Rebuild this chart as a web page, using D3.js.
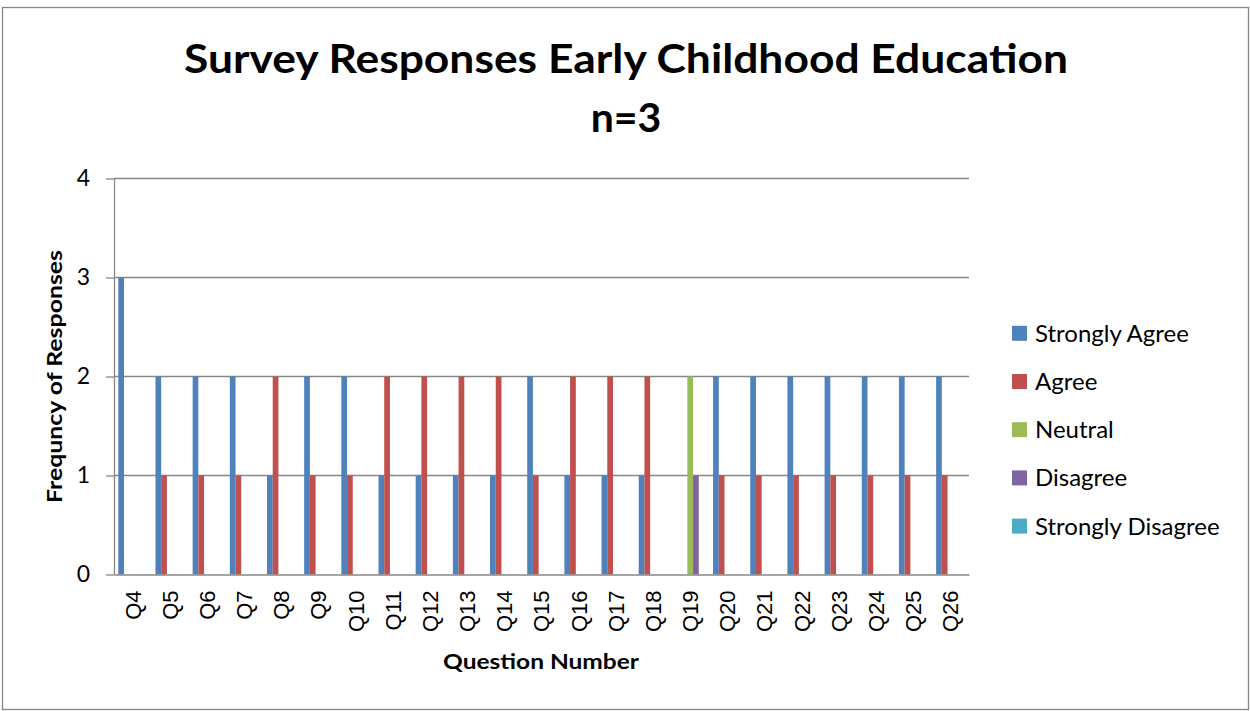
<!DOCTYPE html>
<html lang="en">
  <head>
    <meta charset="utf-8">
    <title>Survey Responses Early Childhood Education</title>
    <script src="https://cdn.jsdelivr.net/npm/d3@7"></script>
    <style>
      body { margin: 0; background: #fff; }
      .axis path, .axis line { fill: none; stroke: #878787; stroke-width: 1.3px; }
      .grid line { stroke: #878787; stroke-width: 1.3px; }
    </style>
  </head>
  <body>
    <script>
      // data
      var categories = ["Q4", "Q5", "Q6", "Q7", "Q8", "Q9", "Q10", "Q11", "Q12", "Q13", "Q14", "Q15",
                        "Q16", "Q17", "Q18", "Q19", "Q20", "Q21", "Q22", "Q23", "Q24", "Q25", "Q26"];
      var seriesNames = ["Strongly Agree", "Agree", "Neutral", "Disagree", "Strongly Disagree"];
      var stronglyAgree    = [3, 2, 2, 2, 1, 2, 2, 1, 1, 1, 1, 2, 1, 1, 1, 0, 2, 2, 2, 2, 2, 2, 2];
      var agree            = [0, 1, 1, 1, 2, 1, 1, 2, 2, 2, 2, 1, 2, 2, 2, 0, 1, 1, 1, 1, 1, 1, 1];
      var neutral          = [0, 0, 0, 0, 0, 0, 0, 0, 0, 0, 0, 0, 0, 0, 0, 2, 0, 0, 0, 0, 0, 0, 0];
      var disagree         = [0, 0, 0, 0, 0, 0, 0, 0, 0, 0, 0, 0, 0, 0, 0, 1, 0, 0, 0, 0, 0, 0, 0];
      var stronglyDisagree = [0, 0, 0, 0, 0, 0, 0, 0, 0, 0, 0, 0, 0, 0, 0, 0, 0, 0, 0, 0, 0, 0, 0];
      var yTicks = [0, 1, 2, 3, 4];

      var seriesValues = [stronglyAgree, agree, neutral, disagree, stronglyDisagree];
      var colors = ["#4F81BD", "#C0504D", "#9BBB59", "#8064A2", "#4BACC6"];

      var W = 1250, H = 711;
      var plot = {left: 114, right: 969, top: 178.5, bottom: 574.5};
      var font = "Lato, sans-serif";

      var svg = d3.select("body").append("svg")
        .attr("width", W)
        .attr("height", H);

      // chart frame
      svg.append("rect")
        .attr("x", 2.5).attr("y", 7.5)
        .attr("width", 1246).attr("height", 702)
        .attr("fill", "#fff")
        .attr("stroke", "#878787")
        .attr("stroke-width", 1.3);

      var x0 = d3.scaleBand()
        .domain(categories)
        .range([plot.left, plot.right])
        .paddingInner(0).paddingOuter(0);

      var x1 = d3.scaleBand()
        .domain(seriesNames)
        .range([0, x0.bandwidth()])
        .paddingInner(0).paddingOuter(0.75);

      var y = d3.scaleLinear()
        .domain([0, 4])
        .range([plot.bottom, plot.top]);

      // gridlines
      svg.append("g").attr("class", "grid")
        .selectAll("line")
        .data(yTicks.slice(1))
        .enter().append("line")
        .attr("x1", plot.left).attr("x2", plot.right)
        .attr("y1", function(d) { return y(d); })
        .attr("y2", function(d) { return y(d); });

      // bars
      var table = [];
      categories.forEach(function(c, i) {
        seriesNames.forEach(function(s, j) {
          table.push({cat: c, series: s, value: seriesValues[j][i], color: colors[j]});
        });
      });

      svg.append("g").selectAll("rect")
        .data(table)
        .enter().append("rect")
        .attr("x", function(d) { return x0(d.cat) + x1(d.series); })
        .attr("y", function(d) { return y(d.value); })
        .attr("width", x1.bandwidth())
        .attr("height", function(d) { return y(0) - y(d.value); })
        .attr("fill", function(d) { return d.color; });

      // y axis
      var yAxis = svg.append("g")
        .attr("class", "axis")
        .attr("transform", "translate(" + plot.left + ",0)")
        .call(d3.axisLeft(y).tickValues(yTicks).tickSize(8).tickPadding(16).tickSizeOuter(0).tickFormat(d3.format("d")));
      yAxis.selectAll("text")
        .attr("font-family", font)
        .attr("font-size", "23px")
        .attr("fill", "#000");

      // x axis
      var xAxis = svg.append("g")
        .attr("class", "axis")
        .attr("transform", "translate(0," + plot.bottom + ")")
        .call(d3.axisBottom(x0).tickSize(0).tickSizeOuter(0));
      xAxis.selectAll("text")
        .attr("font-family", "'Liberation Sans', Arial, sans-serif")
        .attr("font-size", "22px")
        .attr("fill", "#000")
        .attr("text-anchor", "end")
        .attr("transform", "rotate(-90)")
        .attr("x", -16)
        .attr("y", 0)
        .attr("dy", "0.36em");

      // titles
      var title = svg.append("g")
        .attr("font-family", font)
        .attr("font-weight", "bold")
        .attr("text-anchor", "middle");
      title.append("text")
        .attr("x", 626).attr("y", 73)
        .attr("font-size", "41px")
        .attr("textLength", 884)
        .attr("lengthAdjust", "spacingAndGlyphs")
        .text("Survey Responses Early Childhood Education");
      title.append("text")
        .attr("x", 626).attr("y", 132)
        .attr("font-size", "41px")
        .text("n=3");

      svg.append("text")
        .attr("transform", "translate(62,376.5) rotate(-90)")
        .attr("text-anchor", "middle")
        .attr("font-family", font)
        .attr("font-weight", "bold")
        .attr("font-size", "21px")
        .attr("textLength", 253)
        .attr("lengthAdjust", "spacingAndGlyphs")
        .text("Frequncy of Responses");

      svg.append("text")
        .attr("x", 541).attr("y", 669)
        .attr("text-anchor", "middle")
        .attr("font-family", font)
        .attr("font-weight", "bold")
        .attr("font-size", "21px")
        .attr("textLength", 196)
        .attr("lengthAdjust", "spacingAndGlyphs")
        .text("Question Number");

      // legend
      var legend = svg.append("g").selectAll("g")
        .data(seriesNames)
        .enter().append("g")
        .attr("transform", function(d, i) { return "translate(1012," + (333.3 + i * 48.2) + ")"; });
      legend.append("rect")
        .attr("x", 0).attr("y", -7.5)
        .attr("width", 15).attr("height", 15)
        .attr("fill", function(d, i) { return colors[i]; });
      legend.append("text")
        .attr("x", 23).attr("y", 0)
        .attr("dy", "0.35em")
        .attr("font-family", font)
        .attr("font-size", "24px")
        .attr("fill", "#000")
        .text(function(d) { return d; });
    </script>
  </body>
</html>
